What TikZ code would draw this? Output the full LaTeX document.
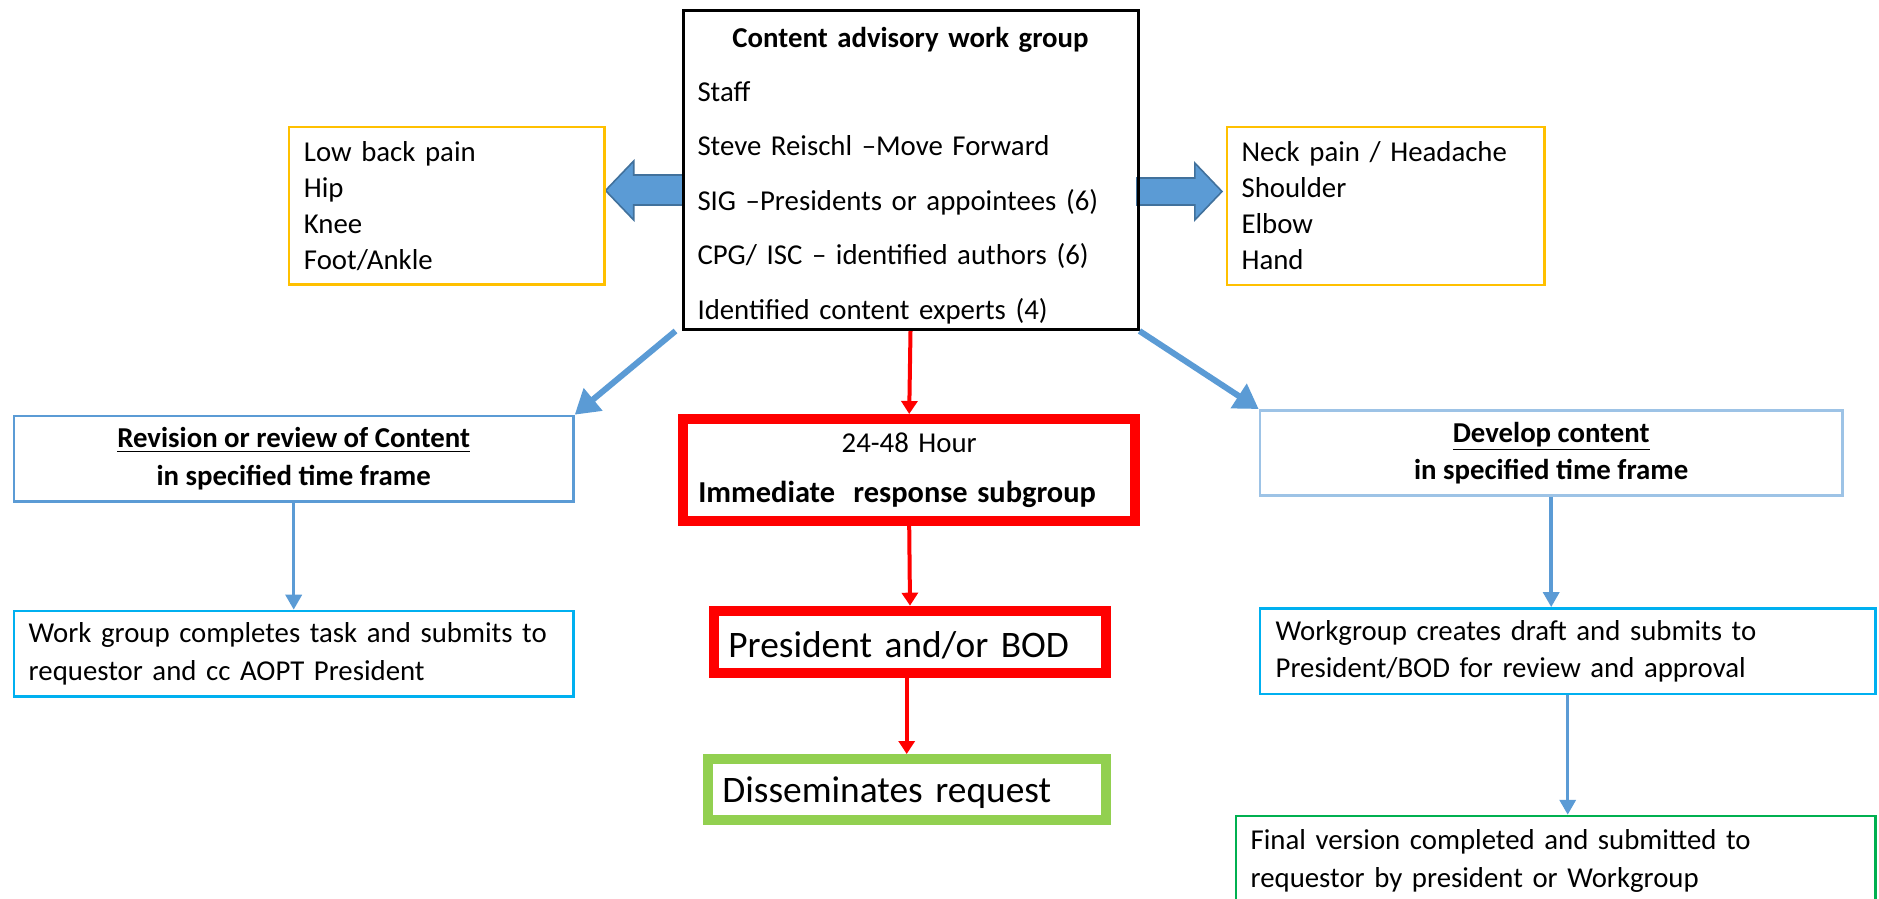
\documentclass[tikz,border=0pt]{standalone}
\usepackage{fontspec}
\setmainfont{Carlito}
\usetikzlibrary{arrows.meta,calc}

\definecolor{boxyellow}{HTML}{FFC000}
\definecolor{midblue}{HTML}{5B9BD5}
\definecolor{darkblue}{HTML}{41719C}
\definecolor{skyblue}{HTML}{00B0F0}
\definecolor{paleblue}{HTML}{9DC3E6}
\definecolor{limegreen}{HTML}{92D050}
\definecolor{boxgreen}{HTML}{00B050}

\tikzset{
  thinbox/.style={draw, rectangle, line width=1.25pt, inner ysep=0pt,
    font=\fontsize{14.4}{18.75}\selectfont},
  thickbox/.style={draw, rectangle, line width=5pt, inner ysep=0pt},
  diagarrow/.style={midblue, line width=3pt, -{Triangle[length=12pt,width=14pt]}},
  downarrow/.style={midblue, line width=1.75pt, -{Triangle[length=7.5pt,width=8pt]}},
  redarrow/.style={red, line width=2pt, -{Triangle[length=6.5pt,width=8pt]}},
  blockarrow/.style={fill=midblue, draw=darkblue, line width=0.8pt},
}

\begin{document}
\begin{tikzpicture}[x=0.5pt,y=-0.5pt]
\useasboundingbox (0,0) rectangle (1879,899);
\clip (0,0) rectangle (1879,899);

% block arrows out of the work group box
\draw[blockarrow] (684,175) -- (633.7,175) -- (633.7,161) -- (605.5,190.5)
  -- (633.7,220) -- (633.7,205) -- (684,205) -- cycle;
\draw[blockarrow] (1137,178) -- (1194.8,178) -- (1194.8,163) -- (1222,191.5)
  -- (1194.8,220) -- (1194.8,205) -- (1137,205) -- cycle;

% top row
\node[thinbox, line width=1.5pt, minimum width=227.5pt, minimum height=159.5pt,
  text width=213pt, inner xsep=6.8pt, align=left,
  font=\fontsize{14.4}{27.2}\selectfont] (cawg) at (910.5,170)
  {\rule{0pt}{15.5pt}\makebox[213pt]{\bfseries Content advisory work group}\\
   Staff\\
   Steve Reischl –Move Forward\\
   SIG –Presidents or appointees (6)\\
   CPG/ ISC – identified authors (6)\\
   Identified content experts (4)};
\node[thinbox, draw=boxyellow, minimum width=157.75pt, minimum height=78.75pt,
  text width=142.75pt, inner xsep=7.5pt, align=left,
  font=\fontsize{14.4}{18}\selectfont] (lowlimb) at (446.7,205.7)
  {Low back pain\\Hip\\Knee\\Foot/Ankle};
\node[thinbox, draw=boxyellow, minimum width=158.75pt, minimum height=78.85pt,
  text width=144.15pt, inner xsep=7.3pt, align=left,
  font=\fontsize{14.4}{18}\selectfont] (uplimb) at (1385.7,206)
  {Neck pain / Headache\\Shoulder\\Elbow\\Hand};

% left branch
\node[thinbox, draw=midblue, minimum width=279.75pt, minimum height=42.85pt,
  align=center] (revise) at (293.7,458.8)
  {\textbf{\underline{Revision or review of Content}}\\\textbf{in specified time frame}};
\node[thinbox, draw=skyblue, minimum width=279.75pt, minimum height=42.85pt,
  text width=264.95pt, inner xsep=7.4pt, align=left] (wgdone) at (293.7,653.8)
  {Work group completes task and submits to\\requestor and cc AOPT President};

% middle branch
\node[thickbox, draw=red, minimum width=225.75pt, minimum height=51pt,
  text width=210.85pt, inner xsep=7.45pt, align=left,
  font=\fontsize{14.4}{25}\selectfont] (immed) at (909.2,470)
  {\makebox[210.85pt]{24-48 Hour}\\
   {\fontsize{15.2}{25}\selectfont\textbf{Immediate\hspace{0.6em}response subgroup}}};
\node[thickbox, draw=red, minimum width=195.85pt, minimum height=31pt,
  text width=181.65pt, inner xsep=7.1pt, align=left,
  font=\fontsize{18.7}{22}\selectfont] (pres) at (910,641.7)
  {\rule{0pt}{17pt}President and/or BOD};
\node[thickbox, draw=limegreen, minimum width=199.15pt, minimum height=30.5pt,
  text width=184.35pt, inner xsep=7.4pt, align=left,
  font=\fontsize{18.7}{22}\selectfont] (dissem) at (906.7,789.5)
  {\rule{0pt}{16pt}Disseminates request};

% right branch
\node[thinbox, draw=paleblue, minimum width=291.25pt, minimum height=42.7pt,
  align=center] (develop) at (1551.2,453)
  {\textbf{\underline{Develop content}}\\\textbf{in specified time frame}};
\node[thinbox, draw=skyblue, minimum width=307.75pt, minimum height=42.85pt,
  text width=292.05pt, inner xsep=7.85pt, align=left] (draft) at (1567.7,651.2)
  {Workgroup creates draft and submits to\\President/BOD for review and approval};
\node[thinbox, draw=boxgreen, minimum width=319.75pt, minimum height=45pt,
  text width=305.15pt, inner xsep=7.3pt, align=left] (final) at (1555.75,861)
  {Final version completed and submitted to\\requestor by president or Workgroup};

% connectors
\draw[diagarrow] ($(cawg.south west)+(-6,0)$) -- (revise.north east);
\draw[diagarrow] (cawg.south east) -- (develop.north west);
\draw[redarrow] (cawg.south) -- (immed.north);
\draw[redarrow] (immed.south) -- (pres.north);
\draw[redarrow] (dissem.north |- pres.south) -- (dissem.north);
\draw[downarrow] (revise.south) -- (wgdone.north);
\draw[downarrow] (develop.south) -- (develop.south |- draft.north);
\draw[downarrow] (draft.south) -- (draft.south |- final.north);
\end{tikzpicture}
\end{document}
